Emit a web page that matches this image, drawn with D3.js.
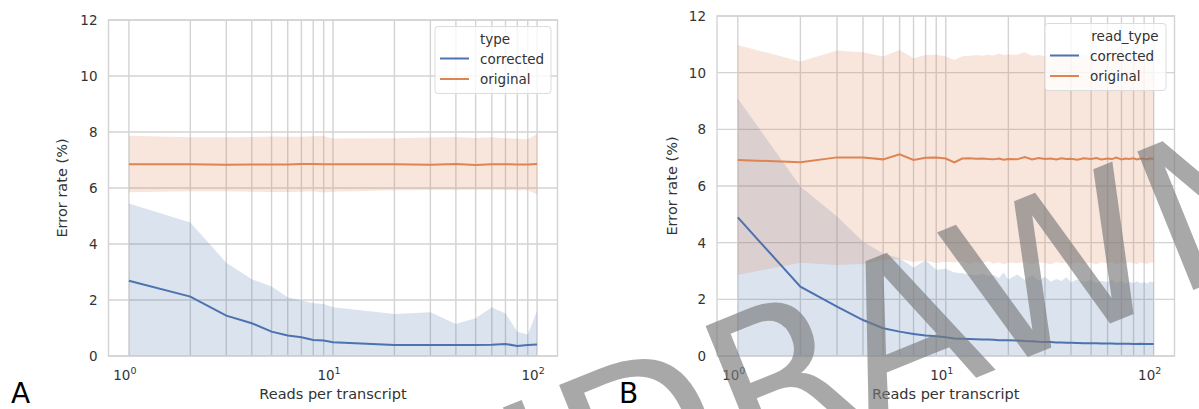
<!DOCTYPE html>
<html>
<head>
<meta charset="utf-8">
<script src="https://cdn.jsdelivr.net/npm/d3@7"></script>
<style>
  body { margin: 0; background: #fff; }
  text { font-family: "DejaVu Sans", sans-serif; }
</style>
</head>
<body>
<svg id="fig" width="1199" height="409"></svg>
<script>
// ---- panel A data ----
var xsA = [1,2,3,4,5,6,7,8,9,10,20,30,40,50,60,70,80,90,100];
var corrA   = [2.69,2.12,1.44,1.17,0.87,0.73,0.67,0.57,0.55,0.49,0.39,0.39,0.39,0.39,0.40,0.43,0.36,0.39,0.41];
var corrAHi = [5.45,4.77,3.33,2.74,2.48,2.10,1.98,1.88,1.86,1.74,1.50,1.56,1.14,1.35,1.74,1.52,0.87,0.77,1.62];
var corrALo = [0,0,0,0,0,0,0,0,0,0,0,0,0,0,0,0,0,0,0];
var origA   = [6.85,6.85,6.83,6.84,6.84,6.84,6.86,6.86,6.85,6.85,6.85,6.83,6.86,6.82,6.85,6.85,6.84,6.84,6.86];
var origAHi = [7.87,7.81,7.81,7.82,7.84,7.83,7.83,7.85,7.86,7.77,7.78,7.80,7.82,7.79,7.81,7.78,7.76,7.74,7.93];
var origALo = [5.85,5.88,5.88,5.87,5.86,5.86,5.87,5.88,5.84,5.87,5.92,5.93,5.93,5.94,5.94,5.93,5.92,5.92,5.77];

// ---- panel B data ----
var xsB = [1,2,3,4,5,6,7,8,9,10,11,12,13,14,15,16,17,18,19,20,22,24,26,28,30,32,34,36,38,40,43,46,50,53,56,60,63,66,70,73,76,80,83,86,90,93,96,100];
var corrB   = [4.89,2.45,1.74,1.27,0.98,0.86,0.78,0.72,0.70,0.66,0.62,0.61,0.60,0.59,0.58,0.58,0.57,0.56,0.56,0.56,0.55,0.53,0.52,0.50,0.49,0.49,0.48,0.48,0.47,0.47,0.46,0.45,0.45,0.45,0.44,0.44,0.44,0.43,0.43,0.43,0.43,0.42,0.42,0.43,0.42,0.42,0.42,0.42];
var corrBHi = [9.09,5.98,4.92,4.04,3.62,3.45,3.12,3.38,3.04,3.08,2.95,2.92,2.88,2.85,2.90,2.82,2.86,2.75,2.95,2.70,2.88,2.68,2.85,2.66,2.80,2.62,2.72,2.65,2.78,2.60,2.70,2.62,2.68,2.58,2.66,2.60,2.70,2.58,2.64,2.56,2.62,2.58,2.64,2.57,2.60,2.56,2.62,2.60];
var corrBLo = [0,0,0,0,0,0,0,0,0,0,0,0,0,0,0,0,0,0,0,0,0,0,0,0,0,0,0,0,0,0,0,0,0,0,0,0,0,0,0,0,0,0,0,0,0,0,0,0];
var origB   = [6.92,6.84,7.01,7.01,6.94,7.12,6.92,7.00,7.01,6.97,6.83,6.97,6.98,6.96,6.97,6.95,6.94,6.97,6.93,6.95,6.94,7.02,6.94,6.99,6.95,6.97,6.94,6.98,6.95,6.96,6.93,6.98,6.95,6.99,6.94,6.97,6.95,7.00,6.94,6.97,6.95,6.98,6.94,6.97,6.96,6.94,6.98,6.95];
var origBHi = [10.98,10.39,10.78,10.72,10.57,10.80,10.51,10.62,10.63,10.58,10.45,10.58,10.60,10.62,10.60,10.63,10.61,10.68,10.62,10.64,10.63,10.72,10.60,10.62,10.58,10.63,10.60,10.65,10.59,10.62,10.60,10.64,10.58,10.62,10.60,10.63,10.58,10.61,10.60,10.64,10.59,10.62,10.60,10.63,10.58,10.61,10.60,10.62];
var origBLo = [2.86,3.29,3.21,3.25,3.38,3.42,3.32,3.36,3.28,3.33,3.30,3.35,3.25,3.32,3.27,3.34,3.26,3.31,3.24,3.30,3.27,3.33,3.25,3.31,3.28,3.24,3.32,3.27,3.30,3.25,3.31,3.26,3.29,3.24,3.30,3.27,3.32,3.25,3.29,3.26,3.31,3.27,3.24,3.30,3.28,3.25,3.31,3.28];

var yTicks = [0,2,4,6,8,10,12];
var xMajor = [1,10,100];
var xMajorExp = ["0","1","2"];
var seriesNames = ["corrected","original"];
var colors = ["#4c72b0","#dd8452"];

var svg = d3.select("#fig");
svg.append("rect").attr("width",1199).attr("height",409).attr("fill","#fff");

var drawPanel = function(p){
    var x = d3.scaleLog().domain([Math.pow(10,-0.1), Math.pow(10,2.1)]).range([p.left, p.right]);
    var y = d3.scaleLinear().domain([0,12]).range([p.bottom, p.top]);
    var g = svg.append("g");

    // grid: every log tick (major + minor) and y ticks
    var xt = x.ticks().filter(function(d){ return d >= 1 && d <= 100; });
    g.selectAll("line.vg").data(xt).enter().append("line")
        .attr("x1", function(d){ return x(d); }).attr("x2", function(d){ return x(d); })
        .attr("y1", p.top).attr("y2", p.bottom)
        .attr("stroke","#d3d3d3").attr("stroke-width",1.4);
    g.selectAll("line.hg").data(yTicks).enter().append("line")
        .attr("x1", p.left).attr("x2", p.right)
        .attr("y1", function(d){ return y(d); }).attr("y2", function(d){ return y(d); })
        .attr("stroke","#d3d3d3").attr("stroke-width",1.4);

    var area = d3.area()
        .x(function(d){ return x(d[0]); })
        .y0(function(d){ return y(d[1]); })
        .y1(function(d){ return y(d[2]); });
    var line = d3.line()
        .x(function(d){ return x(d[0]); })
        .y(function(d){ return y(d[1]); });

    p.series.forEach(function(s, i){
        var pts = p.xs.map(function(v, j){ return [v, s.lo[j], s.hi[j]]; });
        g.append("path").attr("d", area(pts)).attr("fill", colors[i]).attr("fill-opacity",0.2);
    });
    p.series.forEach(function(s, i){
        var pts = p.xs.map(function(v, j){ return [v, s.mean[j]]; });
        g.append("path").attr("d", line(pts)).attr("fill","none")
            .attr("stroke", colors[i]).attr("stroke-width",2);
    });

    // frame
    g.append("rect").attr("x", p.left).attr("y", p.top)
        .attr("width", p.right - p.left).attr("height", p.bottom - p.top)
        .attr("fill","none").attr("stroke","#d3d3d3").attr("stroke-width",1.4);

    // tick labels
    g.selectAll("text.yt").data(yTicks).enter().append("text")
        .attr("x", p.left - 11).attr("y", function(d){ return y(d) + 5; })
        .attr("text-anchor","end").attr("font-size",13.5).attr("fill","#333")
        .text(function(d){ return d; });
    var xl = g.selectAll("text.xt").data(xMajor).enter().append("text")
        .attr("x", function(d){ return x(d) - 4; }).attr("y", p.bottom + 24)
        .attr("text-anchor","middle").attr("font-size",13.5).attr("fill","#333");
    xl.append("tspan").text("10");
    xl.append("tspan").attr("dy",-6).attr("font-size",9.5).text(function(d,i){ return xMajorExp[i]; });

    // axis labels
    g.append("text").attr("x", (p.left + p.right)/2).attr("y", 399)
        .attr("text-anchor","middle").attr("font-size",14.5).attr("fill","#333")
        .text("Reads per transcript");
    g.append("text").attr("transform","translate(" + (p.ylabX) + "," + ((p.top + p.bottom)/2) + ") rotate(-90)")
        .attr("text-anchor","middle").attr("font-size",14.5).attr("fill","#333")
        .text("Error rate (%)");

    // legend
    var lg = p.legend;
    g.append("rect").attr("x", lg.x).attr("y", lg.y).attr("width", lg.w).attr("height", lg.h)
        .attr("rx",3).attr("fill","#fff").attr("fill-opacity",0.8)
        .attr("stroke","#dcdcdc").attr("stroke-width",1);
    g.append("text").attr("x", lg.x + lg.titleX).attr("y", lg.y + 17)
        .attr("text-anchor","middle").attr("font-size",13.5).attr("fill","#333").text(lg.title);
    seriesNames.forEach(function(n, i){
        var yy = lg.y + 32 + i*20.5;
        g.append("line").attr("x1", lg.x + 5).attr("x2", lg.x + 34)
            .attr("y1", yy).attr("y2", yy).attr("stroke", colors[i]).attr("stroke-width",2);
        g.append("text").attr("x", lg.x + 45).attr("y", yy + 5)
            .attr("font-size",13.5).attr("fill","#333").text(n);
    });

    // panel letter
    svg.append("text").attr("x", p.letterX).attr("y", 403)
        .attr("font-family","Liberation Sans, sans-serif").attr("font-size",28).attr("fill","#000")
        .text(p.letter);
};

drawPanel({
    left: 108.5, right: 557.5, top: 20, bottom: 356, ylabX: 67,
    xs: xsA,
    series: [{mean: corrA, hi: corrAHi, lo: corrALo}, {mean: origA, hi: origAHi, lo: origALo}],
    legend: {x: 435, y: 26.5, w: 116, h: 67, title: "type", titleX: 60},
    letter: "A", letterX: 11
});
drawPanel({
    left: 717, right: 1174.5, top: 16, bottom: 356, ylabX: 677,
    xs: xsB,
    series: [{mean: corrB, hi: corrBHi, lo: corrBLo}, {mean: origB, hi: origBHi, lo: origBLo}],
    legend: {x: 1045, y: 23.5, w: 121, h: 67, title: "read_type", titleX: 80},
    letter: "B", letterX: 619
});

// watermark
svg.append("text")
    .attr("transform","translate(1317,240) rotate(-22)")
    .attr("text-anchor","end")
    .attr("font-family","Liberation Sans, sans-serif")
    .attr("font-size",205)
    .attr("fill","#7a7a7a").attr("fill-opacity",0.65)
    .text("WITHDRAWN");
</script>
</body>
</html>
